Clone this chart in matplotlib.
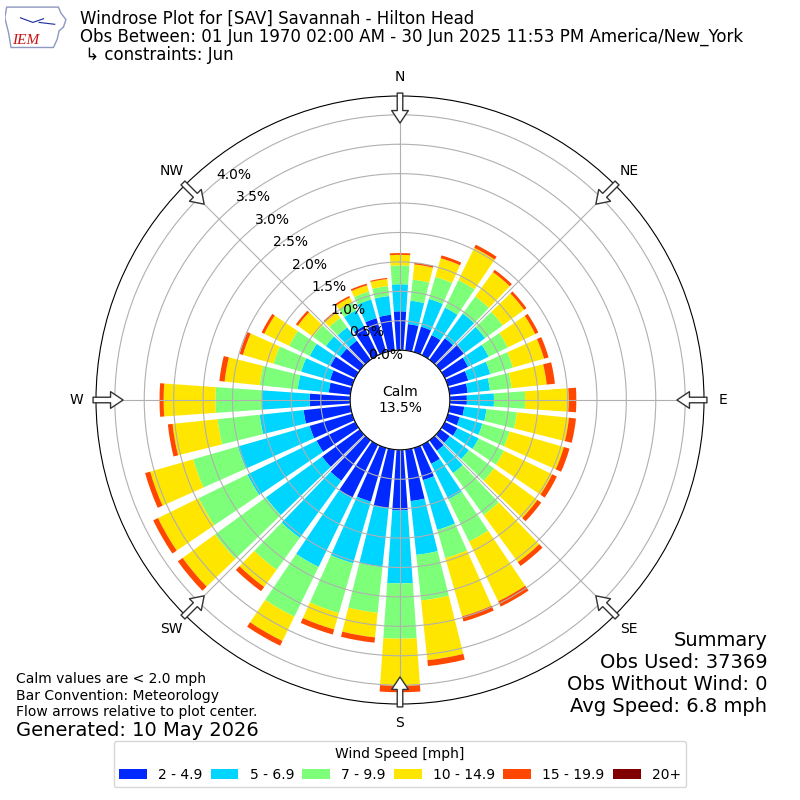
import numpy as np
import matplotlib
matplotlib.use('Agg')
import matplotlib.pyplot as plt
from matplotlib.patches import Polygon

directions = np.arange(0, 360, 10)   # bin centres, deg from north

# cumulative frequency (%) at the outer edge of each speed class
top_2_5 = [0.66, 0.45, 0.45, 0.38, 0.45, 0.50, 0.44, 0.36, 0.31, 0.29,
           0.25, 0.21, 0.24, 0.20, 0.22, 0.36, 0.57, 0.88, 1.03, 1.00,
           0.95, 1.00, 0.85, 0.79, 0.73, 0.75, 0.80, 0.69, 0.37, 0.39,
           0.47, 0.41, 0.40, 0.55, 0.60, 0.61]
top_5_7 = [1.12, 0.85, 0.94, 0.90, 0.97, 0.94, 0.83, 0.75, 0.69, 0.75,
           0.63, 0.61, 0.64, 0.60, 0.69, 1.03, 1.45, 1.80, 2.27, 2.01,
           2.04, 2.31, 2.05, 1.97, 2.04, 2.02, 1.55, 1.50, 0.90, 0.90,
           0.86, 0.71, 0.68, 0.85, 0.93, 0.93]
top_7_10 = [1.44, 1.21, 1.33, 1.42, 1.33, 1.31, 1.19, 1.15, 1.06, 1.28,
            1.15, 1.09, 1.12, 1.13, 1.57, 1.83, 1.95, 2.58, 3.21, 2.79,
            2.92, 3.25, 2.72, 3.04, 2.96, 2.81, 2.27, 2.29, 1.55, 1.39,
            1.25, 0.98, 0.88, 1.00, 1.07, 1.10]
top_10_15 = [1.62, 1.47, 1.66, 2.03, 1.84, 1.76, 1.71, 1.70, 1.66, 2.02,
             2.04, 2.05, 2.03, 2.04, 2.56, 2.96, 2.98, 3.60, 4.01, 3.21,
             3.21, 3.71, 3.08, 3.72, 3.73, 3.57, 3.04, 3.17, 2.15, 1.93,
             1.72, 1.30, 0.99, 1.09, 1.18, 1.22]
top_15_20 = [1.65, 1.50, 1.71, 2.09, 1.89, 1.81, 1.77, 1.78, 1.80, 2.15,
             2.16, 2.15, 2.12, 2.12, 2.64, 3.06, 3.07, 3.70, 4.12, 3.30,
             3.30, 3.80, 3.17, 3.82, 3.82, 3.66, 3.12, 3.24, 2.24, 1.99,
             1.77, 1.34, 1.02, 1.12, 1.21, 1.24]
# nothing visible in the 20+ class
top_20p = list(top_15_20)

speed_labels = ['2 - 4.9', '5 - 6.9', '7 - 9.9', '10 - 14.9', '15 - 19.9', '20+']
compass = ['N', 'NE', 'E', 'SE', 'S', 'SW', 'W', 'NW']

calm_pct = 13.5
obs_used = 37369
obs_nowind = 0
avg_speed = 6.8

title1 = 'Windrose Plot for [SAV] Savannah - Hilton Head'
title2 = 'Obs Between: 01 Jun 1970 02:00 AM - 30 Jun 2025 11:53 PM America/New_York'
title3 = ' \u21b3 constraints: Jun'

########## Plot ###############
rmax = 4.32
r0 = 0.847   # size of the calm hole

fig = plt.figure(figsize=(8, 8), dpi=100)
ax = fig.add_axes([0.12, 0.12, 0.76, 0.76], projection='polar')
ax.set_theta_zero_location('N')
ax.set_theta_direction(-1)

colors = plt.cm.jet(np.arange(1, 7) / 6.0)
theta = np.deg2rad(directions)
width = np.deg2rad(10) * 0.8

handles = []
bottom = np.zeros(len(directions))
for tops, c, lab in zip([top_2_5, top_5_7, top_7_10, top_10_15, top_15_20, top_20p],
                        colors, speed_labels):
    tops = np.array(tops)
    h = ax.bar(theta, tops - bottom, width=width, bottom=bottom, color=c,
               label=lab, linewidth=0)
    handles.append(h)
    bottom = tops

ax.set_rorigin(-r0)
ax.set_ylim(0, rmax)
rt = np.arange(0, 4.01, 0.5)
ax.set_yticks(rt)
ax.set_yticklabels([f'{v:.1f}%' for v in rt], fontsize=10)
ax.set_rlabel_position(320)
ax.set_thetagrids(range(0, 360, 45), compass, fontsize=10)
ax.tick_params(axis='x', pad=3.5)

# flow arrows at the rim
for ang in range(0, 360, 45):
    ax.annotate('', xy=(np.deg2rad(ang), 3.86), xytext=(np.deg2rad(ang), 4.37),
                arrowprops=dict(arrowstyle='simple,head_length=0.9,head_width=1.2,tail_width=0.4',
                                fc='white', ec='#333333', lw=1, shrinkA=0, shrinkB=0),
                annotation_clip=False)

fig.text(0.5, 0.5, f'Calm\n{calm_pct}%', ha='center', va='center', fontsize=10)

# header
fig.text(0.1, 0.976, title1, fontsize=12, va='center')
fig.text(0.1, 0.954, title2, fontsize=12, va='center')
fig.text(0.1, 0.931, title3, fontsize=12, va='center')

# little IEM logo
lax = fig.add_axes([0.006, 0.936, 0.078, 0.058])
lax.set_xlim(0, 1)
lax.set_ylim(0, 1)
lax.axis('off')
iowa = [(0.03, 0.95), (0.86, 0.95), (0.90, 0.82), (0.98, 0.68), (0.94, 0.52),
        (0.87, 0.44), (0.84, 0.26), (0.78, 0.08), (0.10, 0.08), (0.06, 0.40), (0.0, 0.72)]
lax.add_patch(Polygon(iowa, closed=True, fc='white', ec='#8e98c0', lw=1))
lax.plot([0.25, 0.45, 0.62], [0.72, 0.62, 0.70], color='#1a2a9a', lw=0.8)
lax.plot([0.55, 0.80], [0.62, 0.58], color='#1a2a9a', lw=0.8)
lax.text(0.12, 0.22, 'IEM', color='#cc1111', fontsize=11, style='italic',
         family='Liberation Serif', va='center')

# notes
fig.text(0.02, 0.151, 'Calm values are < 2.0 mph', fontsize=10, va='center')
fig.text(0.02, 0.130, 'Bar Convention: Meteorology', fontsize=10, va='center')
fig.text(0.02, 0.110, 'Flow arrows relative to plot center.', fontsize=10, va='center')
fig.text(0.02, 0.0875, 'Generated: 10 May 2026', fontsize=14, va='center')

fig.text(0.959, 0.200, 'Summary', fontsize=14, ha='right', va='center')
fig.text(0.959, 0.1725, f'Obs Used: {obs_used}', fontsize=14, ha='right', va='center')
fig.text(0.959, 0.145, f'Obs Without Wind: {obs_nowind}', fontsize=14, ha='right', va='center')
fig.text(0.959, 0.1175, f'Avg Speed: {avg_speed} mph', fontsize=14, ha='right', va='center')

fig.legend(handles, speed_labels, loc='lower center', bbox_to_anchor=(0.5, 0.007),
           ncol=6, title='Wind Speed [mph]', fontsize=10, title_fontsize=10,
           columnspacing=0.6)

plt.savefig('out.png', dpi=100)
